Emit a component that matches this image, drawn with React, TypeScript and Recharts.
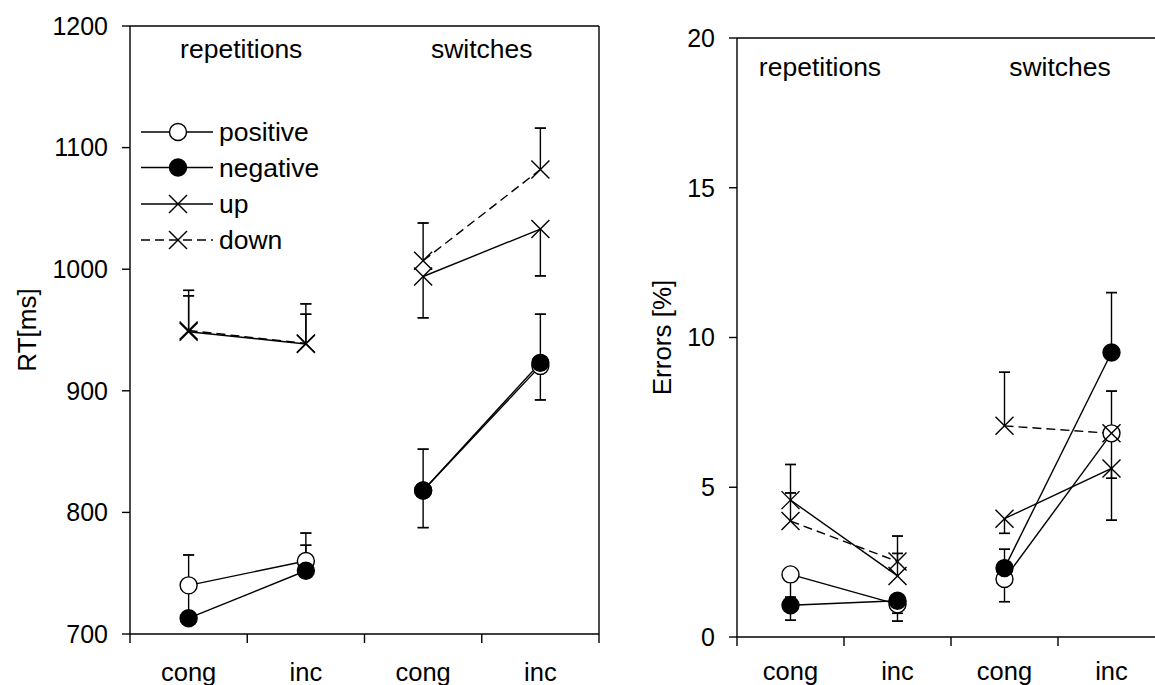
import React from 'react';
import { ErrorBar, Legend, Line, LineChart, ReferenceLine, XAxis, YAxis } from 'recharts';

const FONT = '"Liberation Sans", Arial, Helvetica, sans-serif';
const INK = '#000';

const categories = ['cong', 'inc', 'cong', 'inc'];
const categoryIds = ['rep-cong', 'rep-inc', 'sw-cong', 'sw-inc'];
const groups = ['repetitions', 'switches'];
// which group each category belongs to
const groupOf = [0, 0, 1, 1];
const seriesNames = ['positive', 'negative', 'up', 'down'];

// reaction times [ms]
const rtPositive = [740, 760, 818, 920.5];
const rtNegative = [713, 752, 818, 923];
const rtUp = [948.6, 938.5, 994, 1033];
const rtDown = [949.6, 939, 1007, 1082];
// error bar lengths above / below the mean
const rtPositiveHi = [25, 23, 0, 0];
const rtPositiveLo = [0, 0, 30.5, 28];
const rtNegativeHi = [22, 21, 34, 40];
const rtNegativeLo = [0, 0, 0, 0];
const rtUpHi = [34, 33, 0, 0];
const rtUpLo = [0, 0, 34, 38.5];
const rtDownHi = [28.5, 24, 31, 34];
const rtDownLo = [0, 0, 0, 0];

// errors [%]
const erPositive = [2.09, 1.09, 1.94, 6.8];
const erNegative = [1.06, 1.21, 2.3, 9.5];
const erUp = [4.57, 2.04, 3.95, 5.63];
const erDown = [3.87, 2.52, 7.05, 6.8];
const erPositiveHi = [0, 0, 0, 0];
const erPositiveLo = [0.76, 0.3, 0.76, 2.9];
const erNegativeHi = [0, 0, 0.63, 2.0];
const erNegativeLo = [0.5, 0.68, 0, 0];
const erUpHi = [1.19, 1.33, 0, 0];
const erUpLo = [0, 0, 0.49, 0.33];
const erDownHi = [0.94, 0.27, 1.79, 1.41];
const erDownLo = [0, 0, 0, 0];

const rtTicks = [700, 800, 900, 1000, 1100, 1200];
const erTicks = [0, 5, 10, 15, 20];

const markerOf: Record<string, string> = { positive: 'open', negative: 'filled', up: 'x', down: 'x' };
const dashOf: Record<string, string | undefined> = { down: '9 5' };

// one row per category; each series is split per group so lines don't join across groups
function buildRows(vals: number[][], hi: number[][], lo: number[][]) {
  return categoryIds.map((id, i) => {
    const row: any = { id, label: categories[i] };
    seriesNames.forEach((s, k) => {
      groups.forEach((_, g) => {
        const key = `${s}${g}`;
        const inGroup = groupOf[i] === g;
        row[key] = inGroup ? vals[k][i] : null;
        row[key + 'Hi'] = inGroup ? hi[k][i] : 0;
        row[key + 'Lo'] = inGroup ? lo[k][i] : 0;
      });
    });
    return row;
  });
}

const rtRows = buildRows(
  [rtPositive, rtNegative, rtUp, rtDown],
  [rtPositiveHi, rtNegativeHi, rtUpHi, rtDownHi],
  [rtPositiveLo, rtNegativeLo, rtUpLo, rtDownLo],
);
const erRows = buildRows(
  [erPositive, erNegative, erUp, erDown],
  [erPositiveHi, erNegativeHi, erUpHi, erDownHi],
  [erPositiveLo, erNegativeLo, erUpLo, erDownLo],
);

function Marker({ kind, cx, cy }: { kind: string; cx: number; cy: number }) {
  if (kind === 'x') {
    const h = 9;
    return (
      <g>
        <line x1={cx - h} y1={cy - h} x2={cx + h} y2={cy + h} stroke={INK} strokeWidth={1.4} />
        <line x1={cx - h} y1={cy + h} x2={cx + h} y2={cy - h} stroke={INK} strokeWidth={1.4} />
      </g>
    );
  }
  return <circle cx={cx} cy={cy} r={8.5} fill={kind === 'filled' ? INK : '#fff'} stroke={INK} strokeWidth={1.4} />;
}

const dotFor = (kind: string) => (p: any) => {
  if (p.cx == null || p.cy == null || p.value == null) return <g key={`dot-${p.index}`} />;
  return (
    <g key={`dot-${p.index}`}>
      <Marker kind={kind} cx={p.cx} cy={p.cy} />
    </g>
  );
};

function CatTick(p: any) {
  const { x, y, index, labelDy } = p;
  const off = p.payload?.offset ?? 0;
  return (
    <g>
      <line x1={x - off} y1={y} x2={x - off} y2={y + 9} stroke={INK} strokeWidth={1.4} />
      {index === categories.length - 1 && <line x1={x + off} y1={y} x2={x + off} y2={y + 9} stroke={INK} strokeWidth={1.4} />}
      <text x={x} y={y + labelDy} textAnchor="middle" fontSize={25.5} fontFamily={FONT} fill={INK}>
        {categories[index]}
      </text>
    </g>
  );
}

const groupLabel = (text: string, dx: number, dy: number) => (p: any) => {
  const vb = p.viewBox || {};
  return (
    <text x={(vb.x ?? 0) + dx} y={(vb.y ?? 0) + dy} textAnchor="middle" fontSize={26.5} fontFamily={FONT} fill={INK}>
      {text}
    </text>
  );
};

function LegendBox() {
  const rowY = [20, 55.5, 92, 128];
  return (
    <svg width={240} height={150} style={{ display: 'block' }}>
      {seriesNames.map((s, i) => (
        <g key={s}>
          <line x1={3} y1={rowY[i]} x2={75} y2={rowY[i]} stroke={INK} strokeWidth={1.4} strokeDasharray={dashOf[s]} />
          <Marker kind={markerOf[s]} cx={40} cy={rowY[i]} />
          <text x={81} y={rowY[i] + 9} fontSize={26.5} fontFamily={FONT} fill={INK}>
            {s}
          </text>
        </g>
      ))}
    </svg>
  );
}

interface PanelProps {
  rows: any[];
  domain: [number, number];
  ticks: number[];
  yLabel: string;
  yLabelDx: number;
  width: number;
  margin: { top: number; right: number; bottom: number; left: number };
  yAxisWidth: number;
  xAxisHeight: number;
  catDy: number;
  groupDx: [number, number];
  groupDy: number;
  legend?: boolean;
}

function Panel(props: PanelProps) {
  const { rows, domain, ticks, yLabel, yLabelDx, width, margin, yAxisWidth, xAxisHeight, catDy, groupDx, groupDy, legend } = props;
  const lineKeys: { s: string; key: string }[] = [];
  seriesNames.forEach((s) => groups.forEach((_, g) => lineKeys.push({ s, key: `${s}${g}` })));
  return (
    <LineChart width={width} height={685} data={rows} margin={margin}>
      <XAxis
        dataKey="id"
        type="category"
        scale="band"
        interval={0}
        tickLine={false}
        tickSize={0}
        tickMargin={0}
        height={xAxisHeight}
        axisLine={{ stroke: INK, strokeWidth: 1.4 }}
        tick={(p: any) => <CatTick {...p} labelDy={catDy} />}
      />
      <YAxis
        type="number"
        domain={domain}
        ticks={ticks}
        allowDataOverflow
        width={yAxisWidth}
        tickSize={8}
        tickMargin={14}
        tickLine={{ stroke: INK, strokeWidth: 1.4 }}
        axisLine={{ stroke: INK, strokeWidth: 1.4 }}
        tick={{ fontSize: 25, fontFamily: FONT, fill: INK }}
        label={{ value: yLabel, angle: -90, position: 'center', dx: yLabelDx, fontSize: 26, fontFamily: FONT, fill: INK }}
      />
      <ReferenceLine y={domain[1]} stroke={INK} strokeWidth={1.4} />
      <ReferenceLine x={categoryIds[3]} position="end" stroke={INK} strokeWidth={1.4} />
      <ReferenceLine x={categoryIds[1]} position="start" stroke="none" label={groupLabel(groups[0], groupDx[0], groupDy)} />
      <ReferenceLine x={categoryIds[3]} position="start" stroke="none" label={groupLabel(groups[1], groupDx[1], groupDy)} />
      {lineKeys.map(({ s, key }) => (
        <Line
          key={key}
          dataKey={key}
          stroke={INK}
          strokeWidth={1.4}
          strokeDasharray={dashOf[s]}
          dot={dotFor(markerOf[s])}
          activeDot={false}
          connectNulls={false}
          isAnimationActive={false}
        >
          <ErrorBar
            dataKey={(d: any) => (d[key + 'Hi'] || d[key + 'Lo'] ? [d[key + 'Lo'], d[key + 'Hi']] : undefined)}
            width={0}
            stroke={INK}
            strokeWidth={1.4}
            isAnimationActive={false}
          />
          <ErrorBar
            dataKey={(d: any) => (d[key + 'Hi'] ? [-d[key + 'Hi'], d[key + 'Hi']] : undefined)}
            width={5.5}
            stroke={INK}
            strokeWidth={1.4}
            isAnimationActive={false}
          />
          <ErrorBar
            dataKey={(d: any) => (d[key + 'Lo'] ? [d[key + 'Lo'], -d[key + 'Lo']] : undefined)}
            width={5.5}
            stroke={INK}
            strokeWidth={1.4}
            isAnimationActive={false}
          />
        </Line>
      ))}
      {legend && (
        <Legend
          layout="vertical"
          align="center"
          verticalAlign="middle"
          wrapperStyle={{ left: 138, top: 112, width: 240, height: 150 }}
          content={() => <LegendBox />}
        />
      )}
    </LineChart>
  );
}

export default function App() {
  return (
    <div style={{ position: 'absolute', left: 0, top: 0, width: 1155, height: 685, overflow: 'hidden', background: '#fff' }}>
      <div style={{ position: 'absolute', left: 0, top: 0 }}>
        <Panel
          rows={rtRows}
          domain={[700, 1200]}
          ticks={rtTicks}
          yLabel="RT[ms]"
          yLabelDx={-38}
          width={620}
          margin={{ top: 26, right: 21, bottom: 0, left: 0 }}
          yAxisWidth={130}
          xAxisHeight={51}
          catDy={47}
          groupDx={[-6, 0]}
          groupDy={32}
          legend
        />
      </div>
      <div style={{ position: 'absolute', left: 620, top: 0 }}>
        <Panel
          rows={erRows}
          domain={[0, 20]}
          ticks={erTicks}
          yLabel="Errors [%]"
          yLabelDx={-16.5}
          width={560}
          margin={{ top: 38, right: 15, bottom: 0, left: 0 }}
          yAxisWidth={117}
          xAxisHeight={48}
          catDy={43}
          groupDx={[-24, 2]}
          groupDy={38}
        />
      </div>
    </div>
  );
}
